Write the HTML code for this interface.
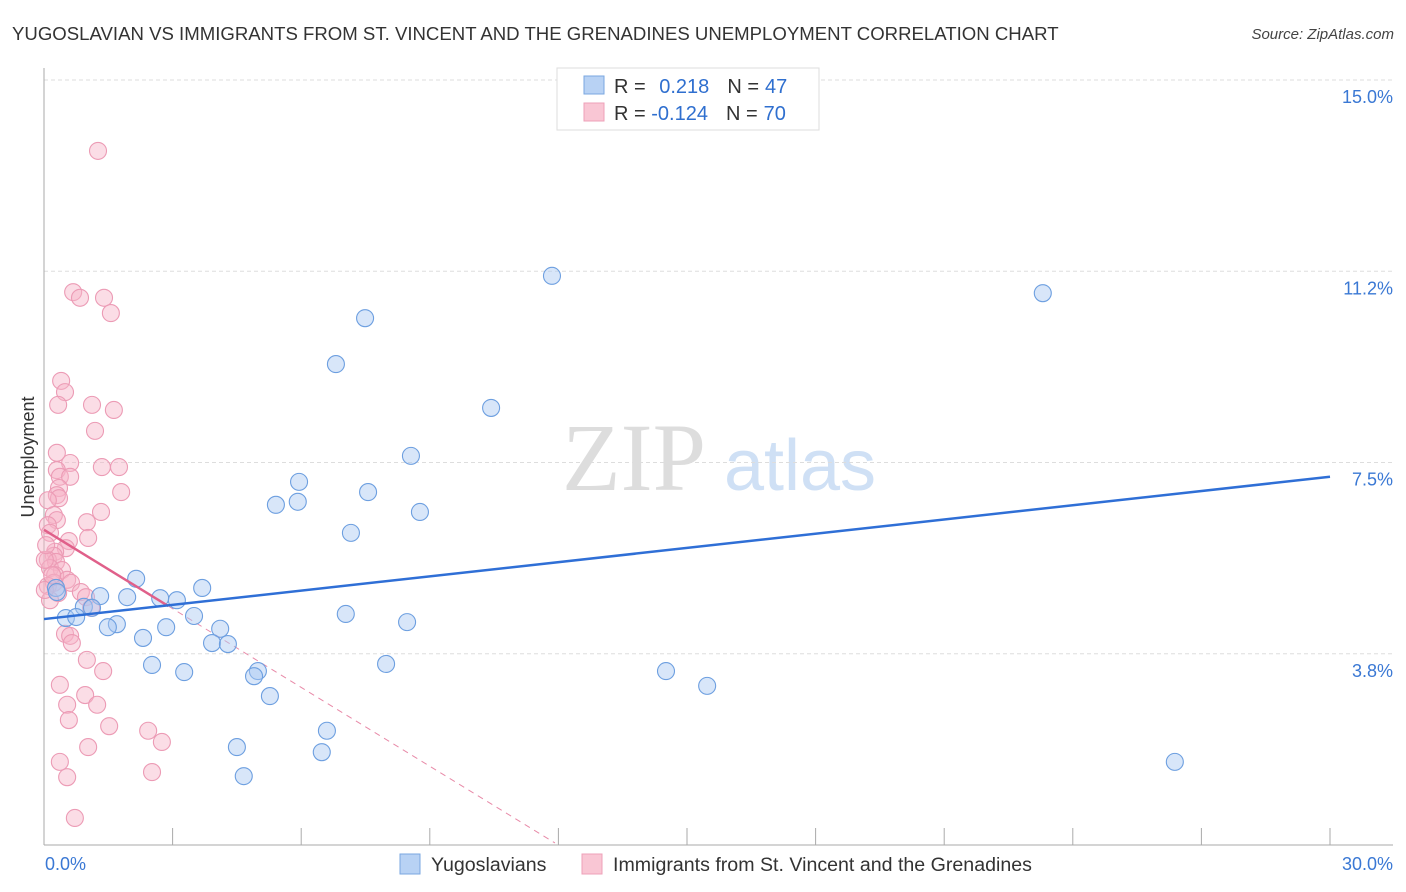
<!DOCTYPE html>
<html><head><meta charset="utf-8"><style>
body{margin:0;background:#fff;font-family:"Liberation Sans",sans-serif}
svg{display:block}
</style></head><body>
<svg id="chart" width="1406" height="892" xmlns="http://www.w3.org/2000/svg">
<text x="12" y="40" font-size="18.6" fill="#333">YUGOSLAVIAN VS IMMIGRANTS FROM ST. VINCENT AND THE GRENADINES UNEMPLOYMENT CORRELATION CHART</text>
<text x="1394" y="39" font-size="15" fill="#444" font-style="italic" text-anchor="end">Source: ZipAtlas.com</text>
<g>
<text x="634" y="490" font-size="96" fill="#ddd" font-family="Liberation Serif,serif" text-anchor="middle">ZIP</text>
<text x="800" y="490" font-size="72" fill="#cfe0f5" text-anchor="middle">atlas</text>
</g>
<g id="grid"></g>
<g id="axes"></g>
<g id="trends"></g>
<g id="points"></g>
<text transform="translate(34,457) rotate(-90)" font-size="18" fill="#333" text-anchor="middle">Unemployment</text>
<g>
<rect x="557" y="68" width="262" height="62" fill="#fff" stroke="#ddd"/>
<rect x="584" y="76" width="20" height="18" fill="#b8d2f4" stroke="#7aa7e0"/>
<rect x="584" y="103" width="20" height="18" fill="#f9c6d4" stroke="#eea0b8"/>
<text x="614" y="93" font-size="20" fill="#333">R = <tspan fill="#2f6fcf" dx="8">0.218</tspan><tspan dx="18" fill="#333">N =</tspan><tspan fill="#2f6fcf" dx="6">47</tspan></text>
<text x="614" y="120" font-size="20" fill="#333">R = <tspan fill="#2f6fcf" dx="0">-0.124</tspan><tspan dx="18" fill="#333">N =</tspan><tspan fill="#2f6fcf" dx="6">70</tspan></text>
</g>
<g>
<rect x="400" y="854" width="20" height="20" fill="#b8d2f4" stroke="#7aa7e0"/>
<text x="431" y="871" font-size="19.6" fill="#333">Yugoslavians</text>
<rect x="582" y="854" width="20" height="20" fill="#f9c6d4" stroke="#eea0b8"/>
<text x="613" y="871" font-size="19.6" fill="#333">Immigrants from St. Vincent and the Grenadines</text>
</g>
</svg>
<script>
const yTicks=[15.0,11.25,7.5,3.75];
const yTickLabels=["15.0%","11.2%","7.5%","3.8%"];
const xTickVals=[0,3,6,9,12,15,18,21,24,27,30];
const blueX=[11.85,23.3,7.49,6.81,10.43,8.56,5.95,7.56,5.41,5.92,8.77,7.16,2.15,3.69,1.94,1.31,2.71,3.10,0.93,1.12,7.04,3.50,0.51,0.75,8.47,1.70,1.49,2.85,4.11,2.31,3.92,4.29,2.52,7.98,4.99,3.27,4.90,14.51,15.47,5.27,6.60,4.50,6.48,4.66,26.38,0.28,0.30];
const blueY=[11.16,10.82,10.33,9.43,8.57,7.63,7.12,6.92,6.67,6.73,6.53,6.12,5.22,5.04,4.86,4.88,4.84,4.80,4.67,4.65,4.53,4.49,4.45,4.47,4.37,4.33,4.27,4.27,4.24,4.06,3.96,3.94,3.53,3.55,3.41,3.39,3.31,3.41,3.12,2.92,2.24,1.92,1.82,1.35,1.63,5.04,4.96];
const pinkX=[1.26,0.68,0.84,1.40,1.56,0.40,0.49,0.33,1.12,1.63,1.19,0.30,0.61,1.35,1.75,0.30,0.37,0.61,0.35,0.30,1.80,0.35,0.09,1.33,0.23,0.30,1.00,0.09,0.14,1.03,0.58,0.51,0.26,0.23,0.09,0.28,0.14,0.42,0.26,0.54,0.63,0.23,0.09,0.33,0.86,0.98,1.10,0.49,0.61,0.65,1.38,1.00,0.37,0.96,0.54,1.24,0.58,1.52,2.43,2.75,1.03,0.37,0.54,2.52,0.72,0.14,0.02,0.05,0.02,0.19];
const pinkY=[13.61,10.84,10.73,10.73,10.43,9.10,8.88,8.63,8.63,8.53,8.12,7.69,7.49,7.41,7.41,7.35,7.22,7.22,7.00,6.86,6.92,6.80,6.76,6.53,6.47,6.37,6.33,6.27,6.12,6.02,5.96,5.82,5.75,5.67,5.59,5.55,5.43,5.39,5.29,5.20,5.14,5.14,5.08,4.94,4.96,4.86,4.65,4.14,4.10,3.96,3.41,3.63,3.14,2.94,2.75,2.75,2.45,2.33,2.24,2.02,1.92,1.63,1.33,1.43,0.53,4.80,5.59,5.88,5.00,5.29];
const blueTrend=[4.43,7.22];
const pinkTrend=[6.18,0.04];
const pinkSolidEnd=2.9, pinkDashEnd=11.92;
const NS="http://www.w3.org/2000/svg";
const X=v=>44+v*1286/30, Y=v=>845-v*51;
function mk(tag,attrs,parent){const e=document.createElementNS(NS,tag);for(const k in attrs)e.setAttribute(k,attrs[k]);parent.appendChild(e);return e;}
const grid=document.getElementById('grid'),axes=document.getElementById('axes'),tr=document.getElementById('trends'),pts=document.getElementById('points');
yTicks.forEach((v,i)=>{
 const l=mk('line',{x1:44,x2:1393,y1:Y(v),y2:Y(v),stroke:'#ddd','stroke-dasharray':'4,3'},grid);
 
 
 const t=mk('text',{x:1393,y:Y(v)+23,'font-size':18,fill:'#3a78d4','text-anchor':'end'},grid);
 t.textContent=yTickLabels[i];
 
 
});
let a=mk('line',{x1:44,x2:44,y1:68,y2:845,stroke:'#aaa'},axes);


a=mk('line',{x1:44,x2:1393,y1:845,y2:845,stroke:'#aaa'},axes);


xTickVals.forEach(v=>{const t=mk('line',{x1:X(v),x2:X(v),y1:828,y2:845,stroke:'#aaa'},axes);
 
 });
let tl=mk('text',{x:45,y:870,'font-size':18,fill:'#3a78d4'},axes);tl.textContent='0.0%';


tl=mk('text',{x:1393,y:870,'font-size':18,fill:'#3a78d4','text-anchor':'end'},axes);tl.textContent='30.0%';


function drawPts(xs,ys,fill,stroke,name){xs.forEach((x,i)=>{const c=mk('circle',{cx:X(x),cy:Y(ys[i]),r:8.5,fill:fill,'fill-opacity':0.45,stroke:stroke,'stroke-width':1.1},pts);
 
 });}
drawPts(pinkX,pinkY,'#f7b3c7','#ec9bb5','immigrants-point');
drawPts(blueX,blueY,'#a8c8f2','#6d9fe0','yugoslavians-point');
const pv=x=>pinkTrend[0]+(pinkTrend[1]-pinkTrend[0])*x/pinkDashEnd;
let l=mk('line',{x1:X(pinkSolidEnd),y1:Y(pv(pinkSolidEnd)),x2:X(pinkDashEnd),y2:Y(pinkTrend[1]),stroke:'#e88aa8','stroke-dasharray':'6,5','stroke-width':1},tr);


l=mk('line',{x1:X(0),y1:Y(pinkTrend[0]),x2:X(pinkSolidEnd),y2:Y(pv(pinkSolidEnd)),stroke:'#e0608a','stroke-width':2.5},pts);


l=mk('line',{x1:X(0),y1:Y(blueTrend[0]),x2:X(30),y2:Y(blueTrend[1]),stroke:'#2f6fd6','stroke-width':2.5},pts);


</script>
</body></html>
